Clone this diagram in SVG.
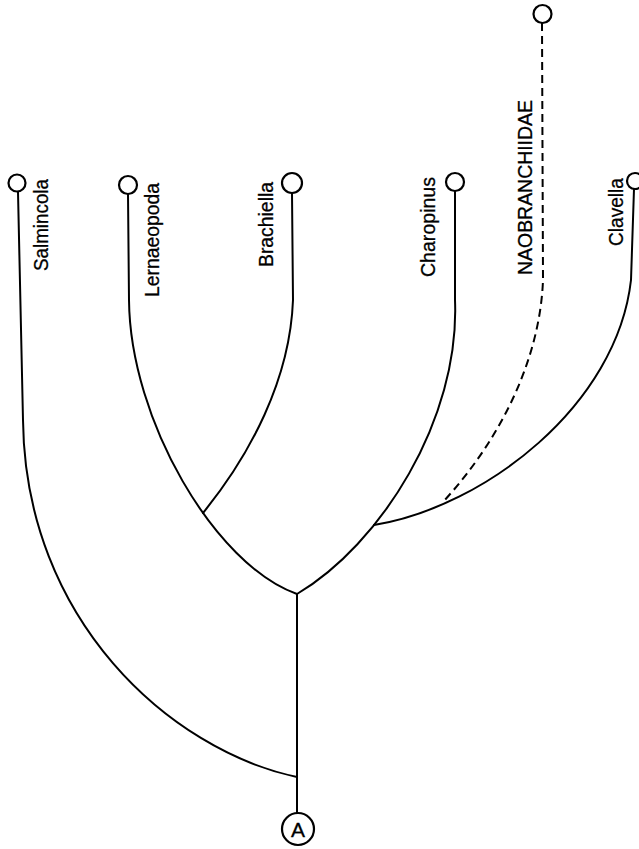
<svg xmlns="http://www.w3.org/2000/svg" width="639" height="849" viewBox="0 0 639 849">
<style>
.ln{fill:none;stroke:#000;stroke-width:2;stroke-linecap:round;stroke-linejoin:round}
.ds{fill:none;stroke:#000;stroke-width:2;stroke-dasharray:8 5}
.tip{fill:#fff;stroke:#000;stroke-width:2.2}
.lb{font-family:"Liberation Sans",Arial,Helvetica,sans-serif;font-size:21px;fill:#000;stroke:#000;stroke-width:0.3}
</style>
<rect width="639" height="849" fill="#fff"/>
<g id="connectors">
<path class="ln" d="M297,594 L297,813"/>
<path class="ln" d="M18,192 L23,420 C25,620 170,750 297,777"/>
<path class="ln" d="M297,594 C215,565 130,420 129,300 L128,194"/>
<path class="ln" d="M203,513 C250,455 290,380 293,300 L292,193"/>
<path class="ln" d="M297,594 C380,545 460,420 455,300 L455,191"/>
<path class="ln" d="M374,525 C485,507 617,405 631,280 L634,189"/>
<path class="ds" d="M542,23 L543,280 C540,360 500,440 443,502"/>
</g>
<g id="node-A">
<circle class="tip" cx="298" cy="829" r="16"/>
<text class="lb" x="298" y="836.5" text-anchor="middle">A</text>
</g>
<g id="node-Salmincola">
<circle class="tip" cx="17" cy="183" r="8.5"/>
<text class="lb" transform="translate(48,271) rotate(-90)" textLength="92" lengthAdjust="spacingAndGlyphs">Salmincola</text>
</g>
<g id="node-Lernaeopoda">
<circle class="tip" cx="128" cy="185" r="9"/>
<text class="lb" transform="translate(159,297) rotate(-90)" textLength="114" lengthAdjust="spacingAndGlyphs">Lernaeopoda</text>
</g>
<g id="node-Brachiella">
<circle class="tip" cx="292" cy="183" r="10"/>
<text class="lb" transform="translate(273,267) rotate(-90)" textLength="85" lengthAdjust="spacingAndGlyphs">Brachiella</text>
</g>
<g id="node-Charopinus">
<circle class="tip" cx="455" cy="182" r="9"/>
<text class="lb" transform="translate(435,277) rotate(-90)" textLength="100" lengthAdjust="spacingAndGlyphs">Charopinus</text>
</g>
<g id="node-Naobranchiidae">
<circle class="tip" cx="542.5" cy="14" r="9"/>
<text class="lb" transform="translate(532,275) rotate(-90)" textLength="175" lengthAdjust="spacingAndGlyphs">NAOBRANCHIIDAE</text>
</g>
<g id="node-Clavella">
<circle class="tip" cx="635" cy="181" r="8"/>
<text class="lb" transform="translate(623,246) rotate(-90)" textLength="68" lengthAdjust="spacingAndGlyphs">Clavella</text>
</g>
</svg>
